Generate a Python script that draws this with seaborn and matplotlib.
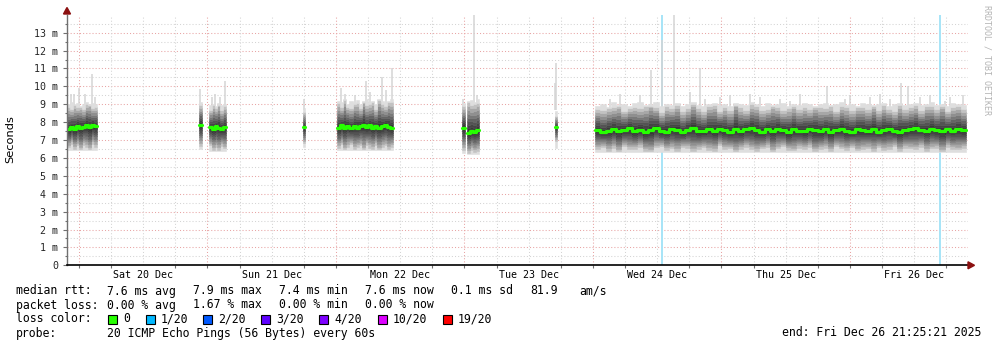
import numpy as np
import matplotlib
matplotlib.use("Agg")
import matplotlib.pyplot as plt
import seaborn as sns
import pandas as pd
from matplotlib.patches import Polygon, Rectangle

# ---------------- data ----------------
# time in hours after Sat 20 Dec 00:00
X_MIN, X_MAX = -2.24, 166.04
Y_MAX = 14.0

day_label_hours = [12, 36, 60, 84, 108, 132, 156]
day_labels = ["Sat 20 Dec", "Sun 21 Dec", "Mon 22 Dec", "Tue 23 Dec",
              "Wed 24 Dec", "Thu 25 Dec", "Fri 26 Dec"]
y_tick_values = [0, 1, 2, 3, 4, 5, 6, 7, 8, 9, 10, 11, 12, 13]
y_tick_labels = ["0", "1 m", "2 m", "3 m", "4 m", "5 m", "6 m", "7 m",
                 "8 m", "9 m", "10 m", "11 m", "12 m", "13 m"]

# segments with data (start hour, end hour)
seg_bounds = [(-2.24, 3.36), (22.41, 22.97), (24.28, 27.45), (41.84, 42.21),
              (48.19, 58.64), (71.53, 72.10), (72.47, 74.70), (88.90, 89.27),
              (96.37, 165.66)]

# median rtt (ms) per step in each segment
med1 = [7.60, 7.72, 7.62, 7.80, 7.68, 7.75, 7.84, 7.72, 7.86, 7.76]
med2 = [7.85]
med3 = [7.72, 7.64, 7.78, 7.70, 7.62, 7.72]
med4 = [7.72]
med5 = [7.68, 7.82, 7.70, 7.80, 7.66, 7.76, 7.70, 7.80, 7.86, 7.72,
        7.82, 7.68, 7.78, 7.70, 7.76, 7.84, 7.74, 7.66]
med6 = [7.70]
med7 = [7.42, 7.52, 7.46, 7.54]
med8 = [7.75]
med9 = [7.55, 7.45, 7.52, 7.62, 7.48, 7.56, 7.66, 7.50, 7.58, 7.46,
        7.55, 7.68, 7.50, 7.47, 7.62, 7.55, 7.45, 7.58, 7.66, 7.50,
        7.48, 7.60, 7.52, 7.64, 7.55, 7.46, 7.60, 7.50, 7.62, 7.66,
        7.54, 7.47, 7.60, 7.50, 7.63, 7.55, 7.45, 7.59, 7.52, 7.48,
        7.62, 7.55, 7.50, 7.60, 7.46, 7.55, 7.63, 7.50, 7.47, 7.60,
        7.56, 7.50, 7.63, 7.47, 7.55, 7.60, 7.50, 7.45, 7.56, 7.62,
        7.66, 7.58, 7.50, 7.63, 7.55, 7.48, 7.60, 7.52, 7.62, 7.55]
medians = [med1, med2, med3, med4, med5, med6, med7, med8, med9]

# top of the smoke bulk (slowest ping) per step
hi1 = [9.0, 9.1, 9.0, 9.05, 8.9, 9.0, 9.1, 9.0, 9.05, 9.0]
hi2 = [9.1]
hi3 = [8.95, 9.0, 8.9, 9.05, 8.95, 9.0]
hi4 = [8.8]
hi5 = [9.2, 9.1, 9.3, 9.0, 9.2, 9.1, 9.25, 9.0, 9.2, 9.3,
       9.1, 9.2, 9.0, 9.3, 9.2, 9.1, 9.2, 9.3]
hi6 = [9.05]
hi7 = [9.2, 9.25, 9.15, 9.3]
hi8 = [8.6]
hi9 = [8.9, 9.0, 8.85, 9.1, 8.95, 9.0, 8.9, 9.05, 9.1, 8.95,
       9.0, 9.1, 8.9, 9.0, 8.95, 9.05, 8.9, 9.0, 9.1, 8.95,
       8.9, 9.0, 9.05, 8.95, 9.0, 8.9, 9.05, 9.0, 8.95, 9.1,
       9.0, 8.9, 9.05, 8.95, 9.0, 9.05, 8.9, 9.0, 8.95, 9.05,
       9.0, 8.9, 9.0, 9.05, 8.95, 9.0, 9.1, 8.95, 9.0, 8.9,
       9.05, 9.0, 8.95, 9.0, 9.05, 8.9, 9.0, 9.05, 8.95, 9.0,
       9.05, 8.95, 9.0, 9.1, 8.95, 9.0, 8.9, 9.05, 9.0, 8.95]
highs = [hi1, hi2, hi3, hi4, hi5, hi6, hi7, hi8, hi9]

# relative spread of the inner pings per step
sp1 = [1.0, 0.85, 1.1, 0.95, 1.15, 0.9, 1.05, 1.2, 0.9, 1.0]
sp2 = [1.0]
sp3 = [0.9, 1.1, 1.0, 1.15, 0.9, 1.05]
sp4 = [0.9]
sp5 = [1.05, 0.9, 1.15, 1.0, 0.85, 1.1, 1.0, 0.95, 1.2, 0.9,
       1.05, 1.1, 0.9, 1.15, 1.0, 0.95, 1.1, 1.0]
sp6 = [1.0]
sp7 = [1.1, 0.95, 1.05, 1.0]
sp8 = [0.8]
sp9 = [1.0, 0.9, 1.1, 0.95, 1.15, 0.85, 1.05, 1.0, 0.9, 1.1,
       1.2, 0.95, 0.85, 1.05, 1.0, 1.1, 0.9, 0.95, 1.15, 1.0,
       0.9, 1.05, 1.1, 0.85, 1.0, 0.95, 1.2, 1.0, 0.9, 1.05,
       1.1, 0.95, 0.9, 1.15, 1.0, 0.85, 1.05, 1.1, 0.95, 1.0,
       0.9, 1.15, 1.0, 0.95, 1.1, 0.85, 1.0, 1.05, 0.9, 1.1,
       1.0, 0.95, 1.15, 0.9, 1.05, 1.0, 0.85, 1.1, 0.95, 1.0,
       1.05, 0.9, 1.1, 1.0, 0.95, 1.15, 0.9, 1.0, 1.05, 0.95]
spreads = [sp1, sp2, sp3, sp4, sp5, sp6, sp7, sp8, sp9]

# fastest ping per segment
lows = [6.45, 6.5, 6.4, 6.6, 6.45, 6.25, 6.2, 6.55, 6.35]

# fraction of the distance from median to fastest / slowest ping for the 20 sorted pings
ping_low_frac = [1.0, 0.86, 0.74, 0.63, 0.52, 0.42, 0.32, 0.22, 0.13, 0.05]
ping_high_frac = [0.05, 0.13, 0.22, 0.32, 0.42, 0.53, 0.64, 0.76, 0.88, 1.0]

# isolated slow pings (hour, rtt ms)
spike_hours = [-1.49, -0.93, 0.0, 1.12, 2.37, 2.99, 22.60, 24.84, 25.40, 26.33,
               27.27, 42.02, 48.93, 49.68, 51.55, 53.60, 54.35, 56.59, 57.34, 58.46,
               71.72, 73.83, 74.33, 88.98, 89.16, 99.2, 101.0, 104.8, 106.83, 108.83,
               111.18, 114.1, 116.04, 116.9, 119.7, 121.6, 125.3, 127.2, 130.9, 132.8,
               134.7, 139.7, 143.1, 144.0, 147.8, 149.6, 151.5, 153.47, 154.83, 157.1,
               158.9, 161.7, 162.7, 165.1]
spike_tops = [9.6, 9.6, 9.9, 9.6, 10.7, 9.4, 9.85, 9.4, 9.6, 9.4,
              10.3, 9.3, 9.9, 9.6, 9.5, 10.3, 9.7, 10.5, 9.8, 11.0,
              9.3, 14.0, 9.5, 10.2, 11.3, 9.3, 9.6, 9.5, 10.9, 12.6,
              14.0, 9.7, 11.05, 9.3, 9.4, 9.5, 9.6, 9.4, 9.3, 9.2,
              9.6, 10.0, 9.3, 9.5, 9.4, 9.6, 9.3, 10.2, 10.0, 9.4,
              9.5, 9.2, 9.4, 9.5]

# steps with 1/20 packet loss
loss_hours = [108.83, 160.86]

loss_labels = ["0", "1/20", "2/20", "3/20", "4/20", "10/20", "19/20"]
loss_colors = ["#26ff00", "#00b8ff", "#0059ff", "#5e00ff", "#7e00ff", "#dd00ff", "#ff0000"]

# ---------------- figure ----------------
W, H = 997, 347
sns.set_theme(style="white")
plt.rcParams['font.family'] = ['DejaVu Sans Mono', 'DejaVu Sans']
MONO = 'DejaVu Sans Mono'

fig = plt.figure(figsize=(W / 100, H / 100), dpi=100)
fig.patch.set_facecolor("white")
ax_l, ax_r, ax_b, ax_t = 67, 968, 265.3, 14.8
ax = fig.add_axes([ax_l / W, 1 - ax_b / H, (ax_r - ax_l) / W, (ax_b - ax_t) / H])
ax.set_facecolor("white")
ax.set_xlim(X_MIN, X_MAX)
ax.set_ylim(0, Y_MAX)

# grid
for yv in np.arange(0.5, Y_MAX, 0.5):
    major = abs(yv - round(yv)) < 1e-6
    ax.axhline(yv, color="#e8a4a4" if major else "#d4d4d4", lw=0.75,
               ls=(0, (1, 2)), zorder=0.5)
for hv in np.arange(0.0, X_MAX, 6.0):
    major = int(round(hv)) % 24 == 0
    ax.axvline(hv, color="#e8a4a4" if major else "#d4d4d4", lw=0.75,
               ls=(0, (1, 2)), zorder=0.5)

# loss markers
for lh in loss_hours:
    ax.axvline(lh, color="#a6e4f7", lw=1.4, zorder=1)

# spikes
ax.vlines(spike_hours, 8.7, spike_tops, color="#d4d4d4", lw=1.1, zorder=2)

# smoke
for (s, e), med, hi, lo, spr in zip(seg_bounds, medians, highs, lows, spreads):
    n = len(med)
    xe = np.linspace(s, e, n + 1)
    m = np.append(med, med[-1])
    h = np.append(hi, hi[-1])
    sp = np.append(spr, spr[-1])
    edges = []
    for i, f in enumerate(ping_low_frac):
        ff = f if i == 0 else np.minimum(f * sp, 0.95)
        edges.append(m - (m - lo) * ff)
    for i, f in enumerate(ping_high_frac):
        ff = f if i == len(ping_high_frac) - 1 else np.minimum(f * sp, 0.95)
        edges.append(m + (h - m) * ff)
    for k in range(19):
        d = abs(k - 9) / 9.0
        g = int(50 + 172 * d ** 1.5)
        col = "#%02x%02x%02x" % (g, g, g)
        ax.fill_between(xe, edges[k], edges[k + 1], step="post", color=col,
                        linewidth=0.4, edgecolor=col, zorder=3)
    df = pd.DataFrame({"t": xe, "rtt": m})
    sns.lineplot(data=df, x="t", y="rtt", drawstyle="steps-post", color="#26ff00",
                 linewidth=2.3, ax=ax, zorder=4, estimator=None, sort=False)

# axes styling
ax.set_xlabel("")
ax.set_ylabel("")
for sp_ in ["top", "right"]:
    ax.spines[sp_].set_visible(False)
ax.spines["left"].set_color("#707070")
ax.spines["left"].set_linewidth(1.0)
ax.spines["bottom"].set_color("black")
ax.spines["bottom"].set_linewidth(1.2)
ax.spines["left"].set_zorder(5)
ax.spines["bottom"].set_zorder(5)

ax.set_xticks(day_label_hours)
ax.set_xticklabels(day_labels, fontfamily=MONO, fontsize=7.2)
ax.set_xticks(np.arange(0, X_MAX, 6.0), minor=True)
ax.tick_params(axis="x", which="major", length=0, pad=3.5, colors="black")
ax.tick_params(axis="x", which="minor", length=2.5, width=0.8, color="#707070", bottom=True)
ax.set_yticks(y_tick_values)
ax.set_yticklabels(y_tick_labels, fontfamily=MONO, fontsize=7.2)
ax.set_yticks(np.arange(0.5, Y_MAX, 0.5), minor=True)
ax.tick_params(axis="y", which="major", length=3, width=0.8, color="#707070", pad=3.2, left=True)
ax.tick_params(axis="y", which="minor", length=1.5, width=0.8, color="#707070", left=True)


def P(x, y):
    return (x / W, 1 - y / H)


# arrows
fig.patches.append(Polygon([P(63.5, 14), P(70.5, 14), P(67, 7.5)], closed=True,
                           transform=fig.transFigure, color="#8b1010", zorder=10))
fig.patches.append(Polygon([P(968, 261.8), P(968, 268.8), P(974.5, 265.3)], closed=True,
                           transform=fig.transFigure, color="#8b1010", zorder=10))

fig.text(*P(10, 139), "Seconds", rotation=90, ha="center", va="center",
         fontsize=8.2, family="DejaVu Sans", color="black")
fig.text(*P(987, 60), "RRDTOOL / TOBI OETIKER", rotation=270, ha="center", va="center",
         fontsize=6.0, family=MONO, color="#b4b4b4")

FS = 8.3


def T(x, y, s, ha="left"):
    fig.text(*P(x, y), s, ha=ha, va="center", fontsize=FS, family=MONO, color="black")


T(16, 291, "median rtt:")
T(107, 291, "7.6 ms avg")
T(193, 291, "7.9 ms max")
T(279, 291, "7.4 ms min")
T(365, 291, "7.6 ms now")
T(451, 291, "0.1 ms sd")
T(530, 291, "81.9")
T(579, 291, "am/s")

T(16, 305, "packet loss:")
T(107, 305, "0.00 % avg")
T(193, 305, "1.67 % max")
T(279, 305, "0.00 % min")
T(365, 305, "0.00 % now")

T(16, 319, "loss color:")
sq_x = [108, 145.7, 203, 261, 319, 378, 442.7]
for sx, lab, col in zip(sq_x, loss_labels, loss_colors):
    fig.patches.append(Rectangle(P(sx, 324), 9 / W, 9 / H, transform=fig.transFigure,
                                 facecolor=col, edgecolor="black", lw=0.8, zorder=10))
    T(sx + 15, 319, lab)

T(16, 333, "probe:")
T(107, 333, "20 ICMP Echo Pings (56 Bytes) every 60s")
T(981, 333, "end: Fri Dec 26 21:25:21 2025", ha="right")

fig.savefig("out.png", dpi=100, facecolor="white")
